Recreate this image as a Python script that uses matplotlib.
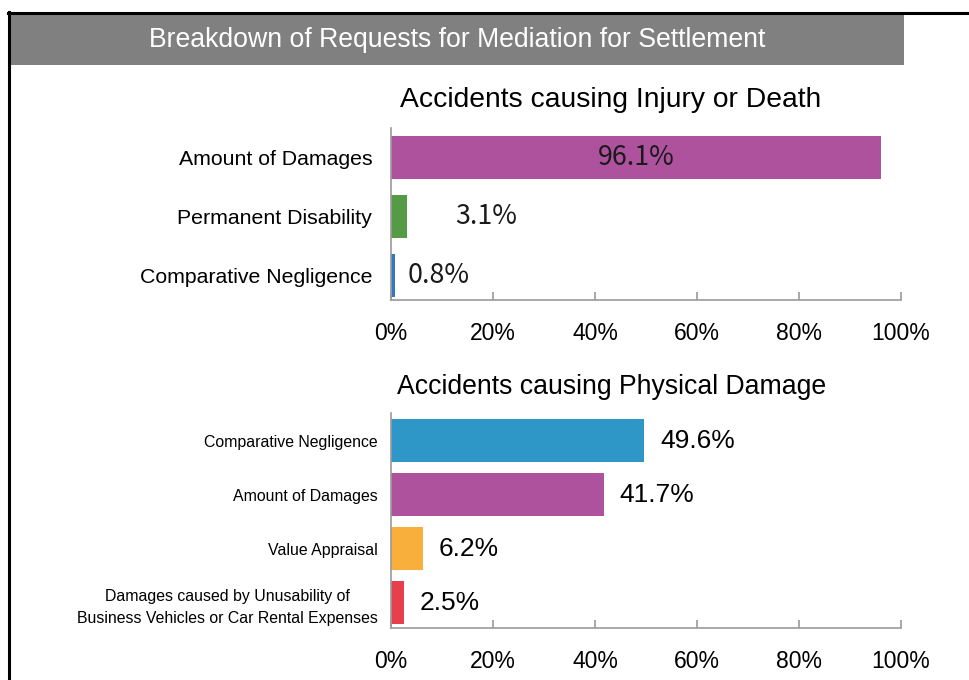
import matplotlib
matplotlib.use("Agg")
import matplotlib.pyplot as plt
from matplotlib.patches import Rectangle
from matplotlib.lines import Line2D
import matplotlib.transforms as mtransforms

# ---- data ----
title = "Breakdown of Requests for Mediation for Settlement"
top_title = "Accidents causing Injury or Death"
top_cats = ["Amount of Damages", "Permanent Disability", "Comparative Negligence"]
top_vals = [96.1, 3.1, 0.8]
top_colors = ["#AF529E", "#559B45", "#2E78C4"]

bot_title = "Accidents causing Physical Damage"
bot_cats = ["Comparative Negligence", "Amount of Damages", "Value Appraisal",
            "Damages caused by Unusability of\nBusiness Vehicles or Car Rental Expenses"]
bot_vals = [49.6, 41.7, 6.2, 2.5]
bot_colors = ["#2E97C8", "#AF529E", "#F9AF3B", "#E8404A"]

x_ticks = [0, 20, 40, 60, 80, 100]
x_ticklabels = ["0%", "20%", "40%", "60%", "80%", "100%"]

# label placement for top panel (Excel-like): None = centred inside bar, else px offset from bar end
top_label_offsets = [None, 48, 13]

W, H = 970, 680
fig = plt.figure(figsize=(W / 100, H / 100), dpi=100)
plt.rcParams['font.family'] = ['Liberation Sans', 'DejaVu Sans']

def fx(px):
    return px / W

def fy(py):
    return 1 - py / H

# frame and title band
fig.add_artist(Rectangle((fx(10), fy(65)), fx(904) - fx(10), fy(14) - fy(65),
                         transform=fig.transFigure, facecolor="#808080", edgecolor="none"))
fig.add_artist(Line2D([fx(8), fx(970)], [fy(13), fy(13)], transform=fig.transFigure,
                      color="black", lw=2.2))
fig.add_artist(Line2D([fx(9), fx(9)], [fy(12), fy(680)], transform=fig.transFigure,
                      color="black", lw=2.2))
fig.text(fx(457), fy(40), title, color="white", fontsize=19.2, ha="center", va="center")

axis_color = "#9A9A9A"

def style_axes(ax, cats, labelsize, pad, xpad):
    ax.set_xlim(0, 100)
    ax.set_xticks(x_ticks)
    ax.set_xticklabels(x_ticklabels, fontsize=16.5)
    ax.set_yticks(range(len(cats)))
    ax.set_yticklabels(cats, fontsize=labelsize, ha="right", multialignment="center")
    for s in ["top", "right"]:
        ax.spines[s].set_visible(False)
    for s in ["left", "bottom"]:
        ax.spines[s].set_color(axis_color)
        ax.spines[s].set_linewidth(1.2)
    ax.tick_params(axis="x", direction="in", length=6, width=1.2, color=axis_color, pad=xpad)
    ax.tick_params(axis="y", length=0, pad=pad)

label_font = ["Noto Sans CJK JP", "DejaVu Sans"]

# top panel
ax1 = fig.add_axes([fx(391), fy(300), fx(901) - fx(391), fy(128) - fy(300)])
ax1.barh(range(len(top_vals)), top_vals, height=0.73, color=top_colors)
ax1.set_ylim(2.42, -0.5)
style_axes(ax1, top_cats, 15.3, 13.5, 16)
for i, (v, off) in enumerate(zip(top_vals, top_label_offsets)):
    if off is None:
        ax1.text(v / 2, i, f"{v:.1f}%", ha="center", va="center", fontsize=19.3,
                 family=label_font, color="#1A1A1A")
    else:
        tr = mtransforms.offset_copy(ax1.transData, fig=fig, x=off * 0.72, y=0, units="points")
        ax1.text(v, i, f"{v:.1f}%", ha="left", va="center", fontsize=19.3, transform=tr,
                 family=label_font, color="#1A1A1A")
fig.text(fx(611), fy(100), top_title, fontsize=20.3, ha="center", va="center")

# bottom panel
ax2 = fig.add_axes([fx(391), fy(628), fx(901) - fx(391), fy(413) - fy(628)])
ax2.barh(range(len(bot_vals)), bot_vals, height=0.8, color=bot_colors)
ax2.set_ylim(3.47, -0.51)
style_axes(ax2, bot_cats, 11.4, 9.5, 15.5)
for lbl in ax2.get_yticklabels():
    lbl.set_linespacing(1.6)
for i, v in enumerate(bot_vals):
    tr = mtransforms.offset_copy(ax2.transData, fig=fig, x=16 * 0.72, y=0, units="points")
    ax2.text(v, i, f"{v:.1f}%", ha="left", va="center", fontsize=19, transform=tr, color="black")
fig.text(fx(612), fy(387), bot_title, fontsize=19.2, ha="center", va="center")

fig.savefig("out.png", dpi=100)
